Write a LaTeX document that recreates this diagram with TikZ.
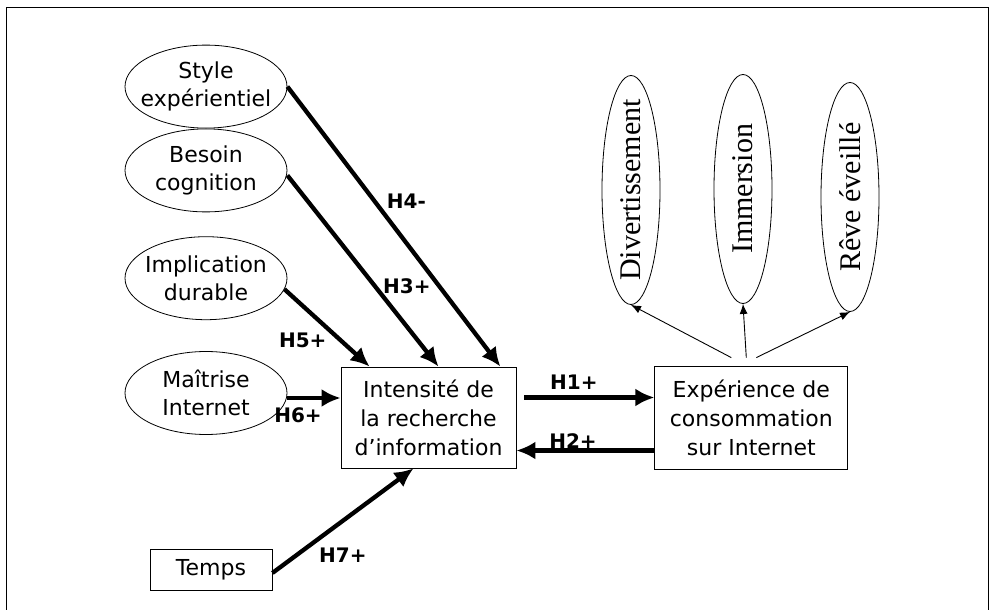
\documentclass[tikz,border=0pt]{standalone}
\usepackage{graphicx}
\usepackage{fontspec}
\setmainfont{DejaVu Sans}
\newfontfamily\timesfont{Liberation Serif}
\usetikzlibrary{shapes.geometric, positioning, arrows.meta, calc}

\tikzset{
  construct/.style={draw, ellipse, line width=0.8pt, minimum width=162pt, minimum height=83pt, inner xsep=-9pt, inner ysep=0pt, align=center, font=\fontsize{22}{28}\selectfont},
  dimension/.style={draw, ellipse, line width=0.8pt, minimum width=58pt, minimum height=229pt, inner sep=0pt},
  dimtext/.style={font=\timesfont\fontsize{30}{30}\selectfont, inner sep=0pt},
  block/.style={draw, rectangle, line width=0.8pt, inner sep=0pt, align=center, font=\fontsize{22}{29}\selectfont},
  hyp/.style={line width=4.3pt, -{Latex[length=19pt,width=18pt]}},
  link/.style={line width=0.9pt, -{Latex[length=10pt,width=8pt]}},
  hlabel/.style={font=\bfseries\fontsize{20}{20}\selectfont, inner sep=1pt}
}

\begin{document}
\begin{tikzpicture}[x=1pt, y=-1pt]
\useasboundingbox (0,0) rectangle (991,610);
% frame
\draw[line width=1pt] (6,615) -- (6,8) -- (988,8) -- (988,615);

% central boxes
\node[block, minimum width=175pt, minimum height=101pt] (intens) at (428.5,417.5) {Intensité de\\la recherche\\d’information};
\node[block, minimum width=193pt, minimum height=103pt, right=138pt of intens] (exper) {Expérience de\\consommation\\sur Internet};

% antecedents
\node[construct] (maitrise) at (206,393) {Maîtrise\\Internet};
\node[construct, above=31pt of maitrise] (implic) {Implication\\durable};
\node[construct, above=24pt of implic] (besoin) {Besoin\\cognition};
\node[construct, above=0pt of besoin] (style) {Style\\expérientiel};
\node[block, minimum width=122pt, minimum height=41pt] (temps) at (211,570) {Temps};

% dimensions of the experience
\node[dimension, label={[dimtext]center:\rotatebox{90}{Divertissement}}] (divert) at (631,190) {};
\node[dimension, label={[dimtext]center:\rotatebox{90}{Immersion}}] (immers) at (743,189) {};
\node[dimension, label={[dimtext]center:\rotatebox{90}{Rêve éveillé}}] (reve) at (850,197) {};

% draw hypotheses
\draw[hyp] (style.east) -- ([xshift=-16pt]intens.north east) node[hlabel, pos=0.41, right=9pt] {H4-};
\draw[hyp] ([yshift=-5pt]besoin.east) -- ([xshift=10pt]intens.north) node[hlabel, pos=0.58, right=5pt] {H3+};
\draw[hyp] ([xshift=-3pt,yshift=-11pt]implic.east) -- ([xshift=29pt]intens.north west) node[hlabel, pos=0.66, left=11pt] {H5+};
\draw[hyp] ([yshift=-5pt]maitrise.east) -- ([yshift=-5pt]maitrise.east -| intens.west) node[hlabel, pos=0.2, below=7pt] {H6+};
\draw[hyp] ([yshift=-3pt]temps.east) -- ([xshift=-15pt]intens.south) node[hlabel, pos=0.5, below=24pt] {H7+};
\draw[hyp] ([xshift=8pt,yshift=20pt]intens.east) -- ([yshift=20pt]intens.east -| exper.west) node[hlabel, pos=0.38, above=5pt] {H1+};
\draw[hyp] ([yshift=-33pt]exper.west) -- ([yshift=-33pt]exper.west -| intens.east) node[hlabel, pos=0.59, above=-1pt] {H2+};

% draw links to the dimensions
\draw[link] ([xshift=-20pt,yshift=8pt]exper.north) -- (divert.south);
\draw[link] ([xshift=-5pt,yshift=8pt]exper.north) -- (immers.south);
\draw[link] ([xshift=5pt,yshift=8pt]exper.north) -- (reve.south);
\end{tikzpicture}
\end{document}
